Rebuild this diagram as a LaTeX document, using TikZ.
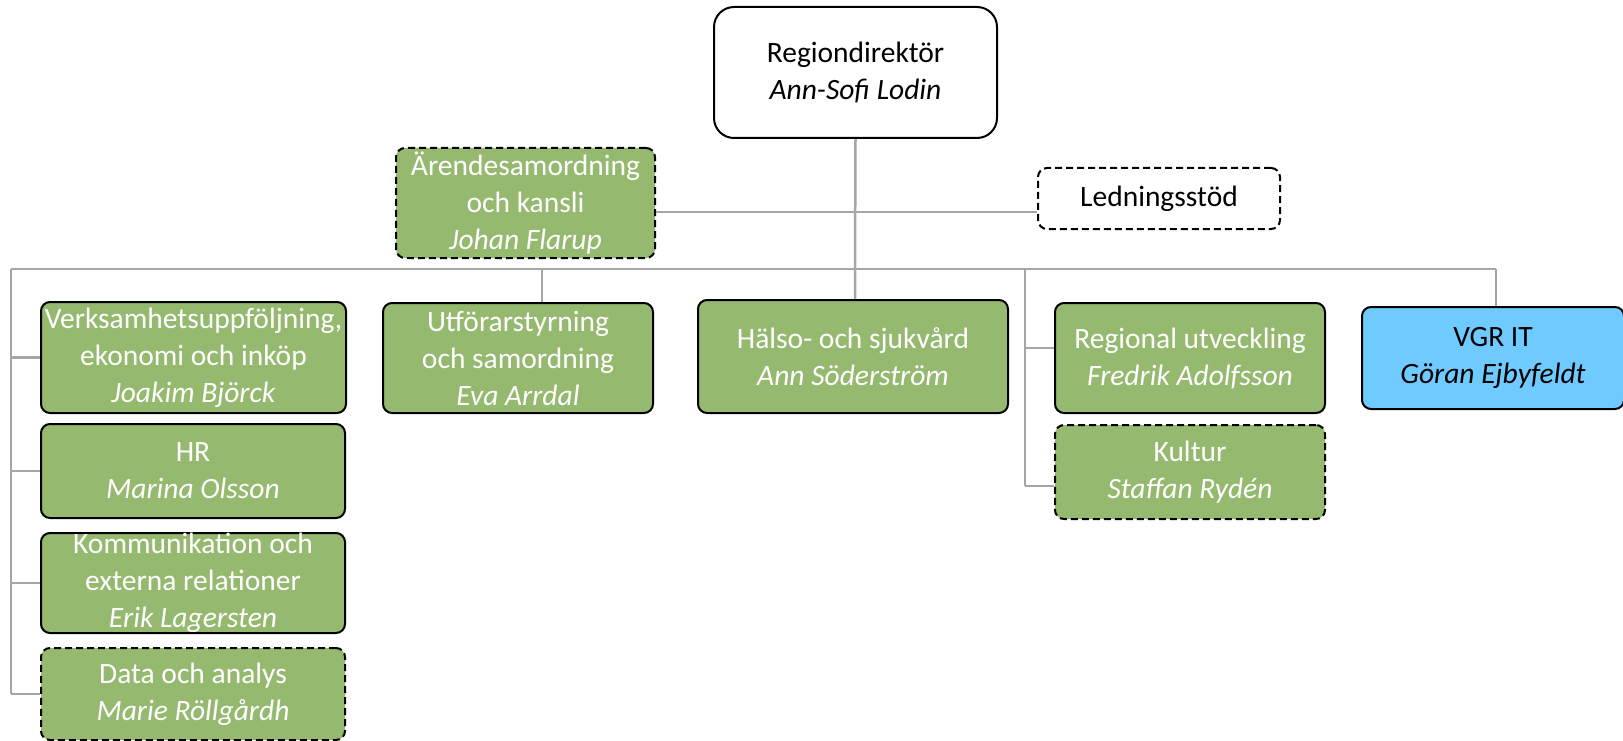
\documentclass[tikz,border=0pt]{standalone}
\usepackage{fontspec}
\setmainfont{Carlito}
\definecolor{grn}{RGB}{150,185,112}
\definecolor{vblue}{RGB}{111,203,255}
\definecolor{conn}{RGB}{166,166,166}
\begin{document}
\begin{tikzpicture}[x=1pt,y=-1pt,
  box/.style={draw=black, line width=2pt, rounded corners=9pt, align=center, inner sep=0pt,
              font=\fontsize{29.5}{37}\selectfont},
  gbox/.style={box, fill=grn, text=white},
  wbox/.style={box, fill=white, text=black},
  bbox/.style={box, fill=vblue, text=black},
  dashbox/.style={dash pattern=on 7pt off 4pt},
  link/.style={draw=conn, line width=2.5pt}]
\useasboundingbox (0,0) rectangle (1623,741);

% nodes
\node[wbox, rounded corners=20pt, minimum width=283pt, minimum height=131pt] (rd) at (855.5,72.5)
  {Regiondirektör\\\textit{Ann-Sofi Lodin}};
\node[gbox, dashbox, minimum width=259pt, minimum height=110pt] (ar) at (525.5,203)
  {Ärendesamordning\\och kansli\\\textit{Johan Flarup}};
\node[wbox, dashbox, minimum width=242pt, minimum height=61pt] (ls) at (1159,198.5)
  {Ledningsstöd};

\node[gbox, minimum width=305pt, minimum height=111pt] (vu) at (193.5,357.5)
  {Verksamhetsuppföljning,\\ekonomi och inköp\\\textit{Joakim Björck}};
\node[gbox, minimum width=304pt, minimum height=94pt] (hr) at (193,471)
  {HR\\\textit{Marina Olsson}};
\node[gbox, minimum width=304pt, minimum height=100pt] (ko) at (193,583)
  {Kommunikation och\\externa relationer\\\textit{Erik Lagersten}};
\node[gbox, dashbox, minimum width=304pt, minimum height=92pt] (da) at (193,694)
  {Data och analys\\\textit{Marie Röllgårdh}};

\node[gbox, minimum width=270pt, minimum height=110pt] (ut) at (518,358)
  {Utförarstyrning\\och samordning\\\textit{Eva Arrdal}};
\node[gbox, minimum width=310pt, minimum height=113pt] (hs) at (853,356.5)
  {Hälso- och sjukvård\\\textit{Ann Söderström}};
\node[gbox, minimum width=270pt, minimum height=110pt] (ru) at (1190,358)
  {Regional utveckling\\\textit{Fredrik Adolfsson}};
\node[gbox, dashbox, minimum width=270pt, minimum height=94pt] (ku) at (1190,472)
  {Kultur\\\textit{Staffan Rydén}};
\node[bbox, minimum width=262pt, minimum height=102pt] (vgr) at (1493,358)
  {VGR IT\\\textit{Göran Ejbyfeldt}};

% coordinates
\coordinate (mid) at (855,212);
\coordinate (busL) at (11,269);
\coordinate (busR) at (1496,269);
\coordinate (busU) at (542,269);
\coordinate (busH) at (855,269);
\coordinate (busK) at (1025,269);
\coordinate (kR) at (1025,348);
\coordinate (kK) at (1025,486);

% connectors
\draw[link] (ar.east |- mid) -- (ls.west |- mid);
\draw[link] (busL) -- (busR);
\draw[link] (rd.south) -- (busH) -- (hs.north -| busH);
\draw[link] (busU) -- (busU |- ut.north);
\draw[link] (busR) -- (busR |- vgr.north);
\draw[link] (busL) -- (busL |- da.west);
\draw[link] (busL |- vu.west) -- (vu.west);
\draw[link] (busL |- hr.west) -- (hr.west);
\draw[link] (busL |- ko.west) -- (ko.west);
\draw[link] (busL |- da.west) -- (da.west);
\draw[link] (busK) -- (kK);
\draw[link] (kR) -- (ru.west |- kR);
\draw[link] (kK) -- (ku.west |- kK);
\end{tikzpicture}
\end{document}
